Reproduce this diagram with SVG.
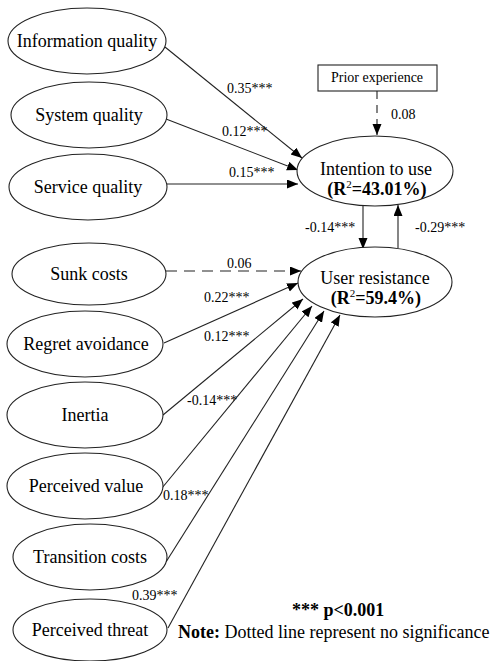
<svg xmlns="http://www.w3.org/2000/svg" width="490" height="661" viewBox="0 0 490 661">
<defs>
<marker id="ah" markerUnits="userSpaceOnUse" markerWidth="12" markerHeight="10" refX="11" refY="4.5" orient="auto">
<path d="M0,0 L11,4.5 L0,9 z" fill="#000"/>
</marker>
<style>
.node ellipse{fill:#fff;stroke:#222;stroke-width:1.1}
.node text{font-family:"Liberation Serif","Times New Roman",serif;font-size:18px;fill:#000;text-anchor:middle}
.lbl{font-family:"Liberation Serif","Times New Roman",serif;font-size:14px;fill:#000}
.edge{stroke:#222;stroke-width:1.1;fill:none;marker-end:url(#ah)}
.dash{stroke-dasharray:11,7}
.note{font-family:"Liberation Serif","Times New Roman",serif;font-size:18px;fill:#000}
</style>
</defs>
<rect width="490" height="661" fill="#fff"/>

<g id="connectors">
<line class="edge" x1="165" y1="47" x2="302" y2="158"/>
<line class="edge" x1="166" y1="119" x2="298" y2="170"/>
<line class="edge" x1="167" y1="184" x2="298" y2="184"/>
<line class="edge dash" x1="377" y1="91" x2="377" y2="135" style="stroke-dasharray:8,6"/>
<line class="edge" x1="363" y1="206" x2="363" y2="249"/>
<line class="edge" x1="398" y1="248" x2="398" y2="205"/>
<line class="edge dash" x1="166" y1="271" x2="301" y2="271"/>
<line class="edge" x1="164" y1="343" x2="298" y2="283"/>
<line class="edge" x1="163" y1="415" x2="303" y2="299"/>
<line class="edge" x1="162" y1="488" x2="312" y2="306"/>
<line class="edge" x1="166" y1="562" x2="324" y2="311"/>
<line class="edge" x1="168" y1="628" x2="340" y2="315"/>
<text class="lbl" x="227" y="93">0.35***</text>
<text class="lbl" x="222" y="136">0.12***</text>
<text class="lbl" x="229" y="177">0.15***</text>
<text class="lbl" x="391" y="119">0.08</text>
<text class="lbl" x="305" y="232">-0.14***</text>
<text class="lbl" x="415" y="232">-0.29***</text>
<text class="lbl" x="227" y="268">0.06</text>
<text class="lbl" x="204" y="302">0.22***</text>
<text class="lbl" x="204" y="341">0.12***</text>
<text class="lbl" x="187" y="405">-0.14***</text>
<text class="lbl" x="163" y="500">0.18***</text>
<text class="lbl" x="132" y="600">0.39***</text>
</g>

<g id="n-info" class="node"><ellipse cx="87" cy="41" rx="79" ry="33"/><text x="87" y="47">Information quality</text></g>
<g id="n-system" class="node"><ellipse cx="89" cy="115" rx="78" ry="33"/><text x="89" y="121">System quality</text></g>
<g id="n-service" class="node"><ellipse cx="88" cy="187" rx="79" ry="33"/><text x="88" y="193">Service quality</text></g>
<g id="n-sunk" class="node"><ellipse cx="89" cy="274" rx="77" ry="31"/><text x="89" y="280">Sunk costs</text></g>
<g id="n-regret" class="node"><ellipse cx="85" cy="344" rx="78" ry="33"/><text x="86" y="350">Regret avoidance</text></g>
<g id="n-inertia" class="node"><ellipse cx="85" cy="415" rx="78" ry="33"/><text x="85" y="421">Inertia</text></g>
<g id="n-value" class="node"><ellipse cx="85" cy="486" rx="78" ry="33"/><text x="86" y="492">Perceived value</text></g>
<g id="n-transition" class="node"><ellipse cx="90" cy="557" rx="77" ry="33"/><text x="90" y="563">Transition costs</text></g>
<g id="n-threat" class="node"><ellipse cx="90" cy="630" rx="77" ry="31"/><text x="90" y="636">Perceived threat</text></g>

<g id="n-prior" class="node"><rect x="318" y="65" width="119" height="26" fill="#fff" stroke="#222" stroke-width="1.1"/><text x="377" y="82" style="font-size:14px">Prior experience</text></g>

<g id="n-intention" class="node"><ellipse cx="375" cy="171" rx="78" ry="35"/>
<text x="376" y="175">Intention to use</text>
<text x="377" y="195" font-weight="bold">(R<tspan font-size="11" font-weight="normal" dy="-7">2</tspan><tspan dy="7">=43.01%)</tspan></text></g>

<g id="n-resistance" class="node"><ellipse cx="375" cy="282" rx="77" ry="35"/>
<text x="375" y="284">User resistance</text>
<text x="376" y="304" font-weight="bold">(R<tspan font-size="11" font-weight="normal" dy="-7">2</tspan><tspan dy="7">=59.4%)</tspan></text></g>

<g id="notes">
<text class="note" x="292" y="616" font-weight="bold">*** p&lt;0.001</text>
<text class="note" x="178" y="638"><tspan font-weight="bold">Note:</tspan> Dotted line represent no significance</text>
</g>
</svg>
